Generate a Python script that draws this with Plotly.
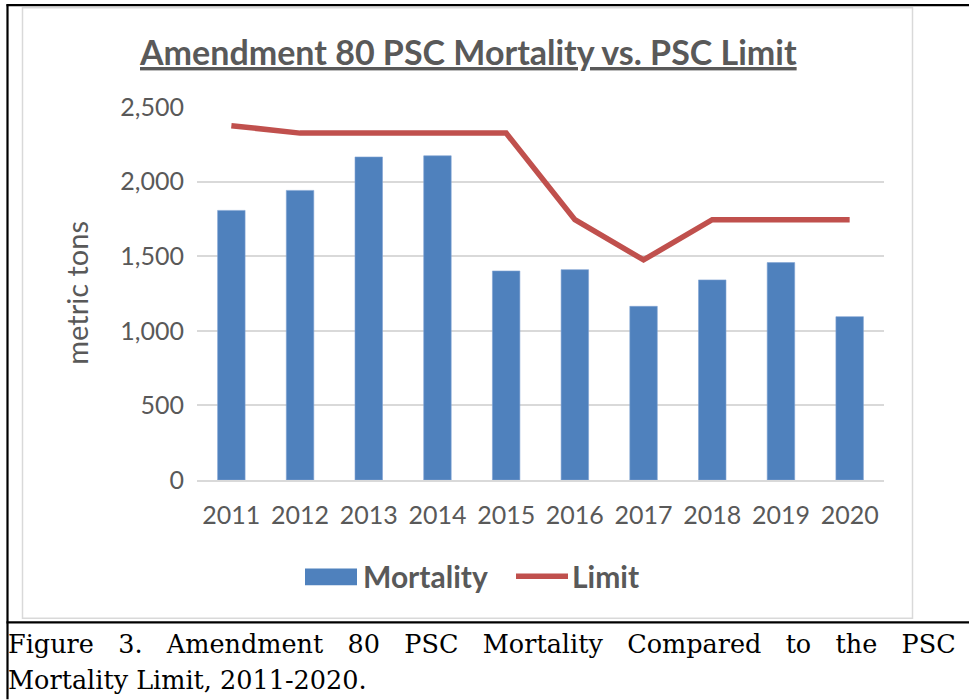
import plotly.graph_objects as go

# ---- data ----
years = ["2011", "2012", "2013", "2014", "2015", "2016", "2017", "2018", "2019", "2020"]
mortality = [1807, 1941, 2165, 2173, 1401, 1410, 1164, 1341, 1457, 1095]
limit = [2375, 2325, 2325, 2325, 2325, 1745, 1475, 1745, 1745, 1745]
y_ticks = [0, 500, 1000, 1500, 2000, 2500]
y_tick_labels = ["0", "500", "1,000", "1,500", "2,000", "2,500"]

title_text = "Amendment 80 PSC Mortality vs. PSC Limit"
caption_lines = ["Figure 3. Amendment 80 PSC Mortality Compared to the PSC",
                 "Mortality Limit, 2011-2020."]

W, H = 969, 700
L, R, T, B = 197, 884, 107, 480.5   # plot area in pixels

BLUE = "#4F81BD"
RED = "#C0504D"
GREY = "#595959"
GRID = "#D9D9D9"
FONT = "Lato"


def px(x):
    return (x - L) / (R - L)


def py(y):
    return (B - y) / (B - T)


fig = go.Figure()
fig.add_trace(go.Bar(x=years, y=mortality, name="Mortality",
                     marker=dict(color=BLUE, line=dict(color="#7FA3D3", width=0.6)),
                     showlegend=False))
fig.add_trace(go.Scatter(x=years, y=limit, name="Limit", mode="lines",
                         line=dict(color=RED, width=5.5), showlegend=False))

shapes = [
    # outer black frame
    dict(type="line", xref="paper", yref="paper", x0=px(6.5), x1=px(969), y0=py(5), y1=py(5),
         line=dict(color="black", width=2.2)),
    dict(type="line", xref="paper", yref="paper", x0=px(7.5), x1=px(7.5), y0=py(4), y1=py(700),
         line=dict(color="black", width=2.2)),
    dict(type="line", xref="paper", yref="paper", x0=px(6.5), x1=px(969), y0=py(623), y1=py(623),
         line=dict(color="black", width=2.2)),
    # inner chart border
    dict(type="rect", xref="paper", yref="paper", x0=px(22.5), x1=px(912.5), y0=py(619), y1=py(7.5),
         line=dict(color=GRID, width=1.5)),
    # legend swatches
    dict(type="rect", xref="paper", yref="paper", x0=px(305), x1=px(357), y0=py(586), y1=py(569),
         fillcolor=BLUE, line=dict(width=0)),
    dict(type="line", xref="paper", yref="paper", x0=px(516), x1=px(568), y0=py(577), y1=py(577),
         line=dict(color=RED, width=5.5)),
]

# first caption line is justified in the source: widen the word gaps
caption_first = " &nbsp;&nbsp;".join(caption_lines[0].split(" "))

annotations = [
    dict(text="<b><u>" + title_text + "</u></b>", xref="paper", yref="paper",
         x=px(468), y=py(51), xanchor="center", yanchor="middle", showarrow=False,
         font=dict(family=FONT, size=34, color=GREY)),
    dict(text="metric tons", xref="paper", yref="paper", x=px(77), y=py(293),
         xanchor="center", yanchor="middle", textangle=-90, showarrow=False,
         font=dict(family=FONT, size=29, color=GREY)),
    dict(text="<b>Mortality</b>", xref="paper", yref="paper", x=px(361), y=py(577),
         xanchor="left", yanchor="middle", showarrow=False,
         font=dict(family=FONT, size=30, color=GREY)),
    dict(text="<b>Limit</b>", xref="paper", yref="paper", x=px(570), y=py(577),
         xanchor="left", yanchor="middle", showarrow=False,
         font=dict(family=FONT, size=30, color=GREY)),
    dict(text=caption_first, xref="paper", yref="paper", x=px(6), y=py(645),
         xanchor="left", yanchor="middle", showarrow=False,
         font=dict(family="DejaVu Serif", size=25.5, color="black")),
    dict(text=caption_lines[1], xref="paper", yref="paper", x=px(6), y=py(681),
         xanchor="left", yanchor="middle", showarrow=False,
         font=dict(family="DejaVu Serif", size=25.5, color="black")),
]

fig.update_layout(
    width=W, height=H,
    margin=dict(l=L, r=W - R, t=T, b=H - B, pad=0),
    paper_bgcolor="white", plot_bgcolor="white",
    bargap=0.6,
    shapes=shapes, annotations=annotations,
    font=dict(family=FONT, color=GREY),
)
fig.update_xaxes(type="category", showgrid=False, showline=True, linecolor=GRID, linewidth=1.5,
                 ticks="", tickfont=dict(family=FONT, size=25, color=GREY), ticklabelstandoff=12)
fig.update_yaxes(range=[0, 2500], tickvals=y_ticks, ticktext=y_tick_labels,
                 showgrid=True, gridcolor=GRID, gridwidth=1.5, zeroline=False, showline=False,
                 ticks="", tickfont=dict(family=FONT, size=25, color=GREY), ticklabelstandoff=12)

fig.write_html("out.html", config={"displayModeBar": False},
               post_script="document.body.style.margin='0px';")
